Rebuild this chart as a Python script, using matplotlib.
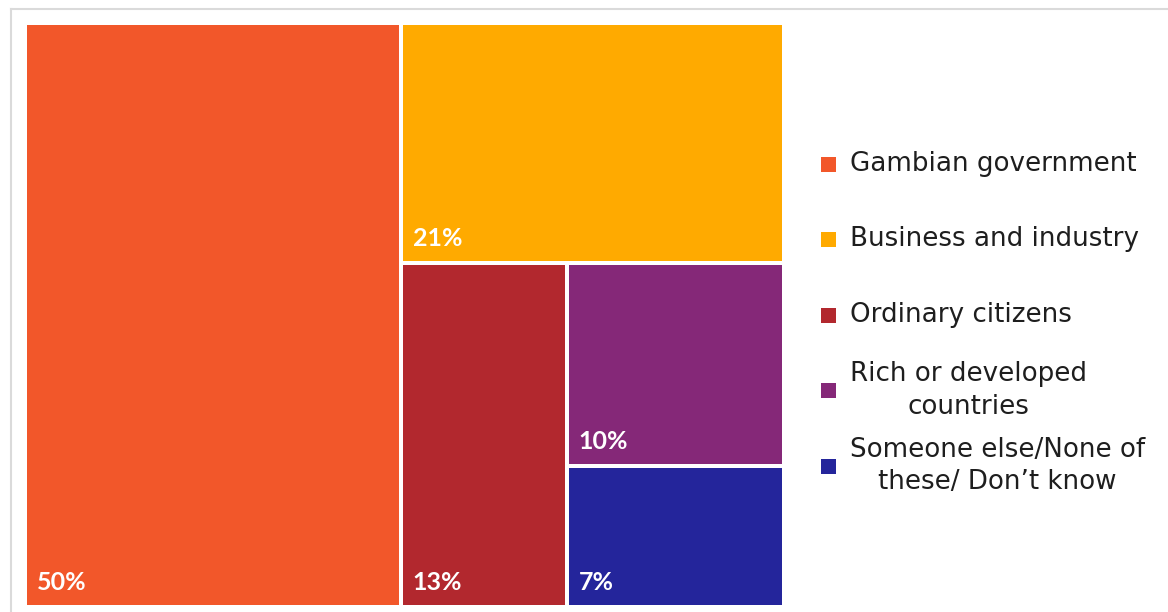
import matplotlib.pyplot as plt
from matplotlib.lines import Line2D
from matplotlib.patches import Rectangle

# Share of responses by who should act
categories = [
    "Gambian government",
    "Business and industry",
    "Ordinary citizens",
    "Rich or developed\ncountries",
    "Someone else/None of\nthese/ Don\u2019t know",
]
shares = [50, 21, 13, 10, 7]
value_labels = ["50%", "21%", "13%", "10%", "7%"]
colors = ["#F2572A", "#FFAA00", "#B2282E", "#852878", "#24259B"]

W, H = 1168, 612


def slice_layout(values, x, y, w, h):
    """Greedy slice layout: each value takes a strip along the longer side."""
    rects = []
    for i, v in enumerate(values):
        if i == len(values) - 1:
            rects.append((x, y, w, h))
            break
        frac = v / sum(values[i:])
        if w >= h:
            rects.append((x, y, w * frac, h))
            x += w * frac
            w -= w * frac
        else:
            rects.append((x, y + h * (1 - frac), w, h * frac))
            h -= h * frac
    return rects


fig = plt.figure(figsize=(W / 100, H / 100), dpi=100)
fig.patch.set_facecolor("white")

# treemap area, in pixel units
left, top, right, bottom = 25, 23, 784, 607
ax = fig.add_axes([left / W, 1 - bottom / H, (right - left) / W, (bottom - top) / H])
aw, ah = right - left, bottom - top
ax.set_xlim(0, aw)
ax.set_ylim(0, ah)
ax.axis("off")

gap = 2
for (rx, ry, rw, rh), color, lab in zip(slice_layout(shares, 0, 0, aw, ah), colors, value_labels):
    ax.add_patch(Rectangle((rx + gap, ry + gap), rw - 2 * gap, rh - 2 * gap,
                           facecolor=color, edgecolor="none"))
    ax.text(rx + 12, ry + 13, lab, ha="left", va="bottom", color="white",
            fontsize=18, fontweight="bold", family="Lato")

# legend drawn by hand on the right
y0, step = 164, 75.5
for i, (cat, color) in enumerate(zip(categories, colors)):
    yc = y0 + i * step
    sq = 15
    fig.patches.append(Rectangle((821 / W, 1 - (yc + sq / 2) / H), sq / W, sq / H,
                                 transform=fig.transFigure, facecolor=color,
                                 edgecolor="none"))
    fig.text(850 / W, 1 - yc / H, cat, ha="left", va="center",
             multialignment="center", fontsize=18.8, color="#1E1E1E",
             linespacing=1.32, family="DejaVu Sans")

# light frame around the chart area
frame = "#DADADA"
fig.lines.append(Line2D([10.5 / W, 10.5 / W], [0, 1 - 8.5 / H],
                        transform=fig.transFigure, color=frame, linewidth=1.5))
fig.lines.append(Line2D([10.5 / W, 1], [1 - 8.5 / H, 1 - 8.5 / H],
                        transform=fig.transFigure, color=frame, linewidth=1.5))

fig.savefig("out.png", dpi=100)
